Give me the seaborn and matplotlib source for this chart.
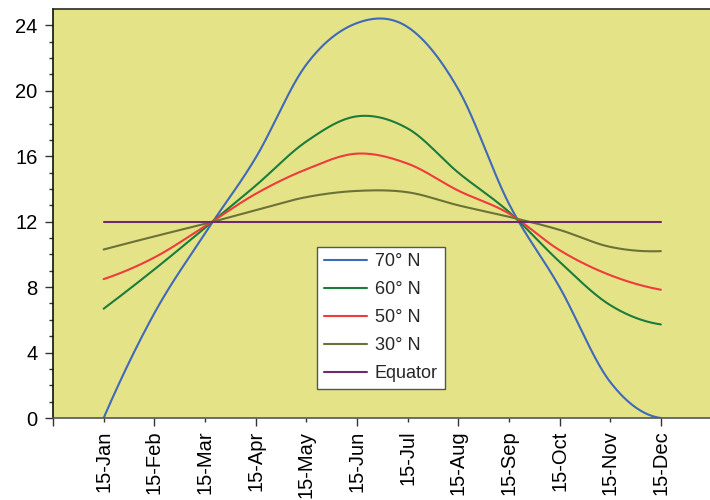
import numpy as np
import pandas as pd
import matplotlib
matplotlib.use("Agg")
import matplotlib.pyplot as plt
import seaborn as sns

# Day length (hours) on the 15th of each month
months = ["15-Jan", "15-Feb", "15-Mar", "15-Apr", "15-May", "15-Jun",
          "15-Jul", "15-Aug", "15-Sep", "15-Oct", "15-Nov", "15-Dec"]
lat70 = [0.0, 6.4, 11.28, 15.9, 21.6, 24.14, 23.9, 20.1, 13.1, 8.0, 2.2, 0.0]
lat60 = [6.68, 9.08, 11.62, 14.2, 16.9, 18.44, 17.7, 15.0, 12.6, 9.55, 6.9, 5.72]
lat50 = [8.49, 9.81, 11.72, 13.7, 15.2, 16.16, 15.55, 13.9, 12.5, 10.26, 8.73, 7.84]
lat30 = [10.3, 11.1, 11.87, 12.7, 13.5, 13.88, 13.8, 13.0, 12.3, 11.5, 10.46, 10.2]
equator = [12.0] * 12

series_names = ["70\u00b0 N", "60\u00b0 N", "50\u00b0 N", "30\u00b0 N", "Equator"]
series_vals = [lat70, lat60, lat50, lat30, equator]
colors = ["#3f69b9", "#1c7c3b", "#ef3b3b", "#6b7237", "#6d2a6f"]


def smooth(y, n=40):
    """Cubic Hermite (Catmull-Rom) smoothing through every point."""
    y = np.asarray(y, float)
    k = len(y)
    m = np.empty(k)
    m[1:-1] = (y[2:] - y[:-2]) / 2.0
    m[0] = 2 * (y[1] - y[0]) - m[1]
    m[-1] = 2 * (y[-1] - y[-2]) - m[-2]
    xs, ys = [], []
    for i in range(k - 1):
        t = np.linspace(0, 1, n, endpoint=(i == k - 2))
        h00 = 2 * t**3 - 3 * t**2 + 1
        h10 = t**3 - 2 * t**2 + t
        h01 = -2 * t**3 + 3 * t**2
        h11 = t**3 - t**2
        xs.append(i + 1 + t)
        ys.append(h00 * y[i] + h10 * m[i] + h01 * y[i + 1] + h11 * m[i + 1])
    return np.concatenate(xs), np.concatenate(ys)


frames = []
for name, vals in zip(series_names, series_vals):
    xs, ys = smooth(vals)
    frames.append(pd.DataFrame({"pos": xs, "hours": ys, "series": name}))
df = pd.concat(frames, ignore_index=True)

sns.set_style("ticks")
plt.rcParams["font.family"] = ["Liberation Sans", "DejaVu Sans"]

fig = plt.figure(figsize=(7.1, 5.0), dpi=100)
ax = fig.add_axes([53 / 710, 82 / 500, 657 / 710, 409 / 500])
ax.set_facecolor("#e5e388")

sns.lineplot(data=df, x="pos", y="hours", hue="series", hue_order=series_names,
             palette=colors, sort=False, estimator=None, linewidth=1.5, ax=ax)

ax.set_xlim(0, 12.97)
ax.set_ylim(0, 25)
ax.set_xlabel("")
ax.set_ylabel("")

# y axis: majors every 4 h, minors every hour
ax.set_yticks(np.arange(0, 25, 4))
ax.set_yticks(np.arange(0, 25, 1), minor=True)
ax.tick_params(axis="y", which="major", length=6, width=1, color="#333333",
               labelsize=14.5, pad=5, direction="out", labelcolor="black")
ax.tick_params(axis="y", which="minor", length=3, width=1, color="#333333",
               direction="out")

# x axis: a tick at every month, longer ticks on every other one
ax.set_xticks(np.arange(0, 13))
ax.set_xticklabels([""] + months, rotation=90, va="top", ha="center")
ax.tick_params(axis="x", which="major", length=3, width=1, color="#333333",
               labelsize=14.5, pad=6, direction="out", labelcolor="black")
for i, tk in enumerate(ax.xaxis.get_major_ticks()):
    if i % 2 == 0:
        tk.tick1line.set_markersize(6)

for side in ["left", "bottom", "top"]:
    ax.spines[side].set_visible(True)
    ax.spines[side].set_linewidth(1.2)
ax.spines["left"].set_color("#111111")
ax.spines["bottom"].set_color("#555555")
ax.spines["top"].set_color("#2a2a2a")
ax.spines["right"].set_visible(False)

handles, labels = ax.get_legend_handles_labels()
leg = ax.legend(handles, labels, loc="upper left", bbox_to_anchor=(0.402, 0.419),
                borderaxespad=0, fontsize=13, frameon=True, fancybox=False,
                handlelength=2.4, handletextpad=0.41, labelspacing=0.6,
                borderpad=0.38, framealpha=1)
leg.get_frame().set_edgecolor("#555555")
leg.get_frame().set_facecolor("white")
leg.get_frame().set_linewidth(1.0)
for line in leg.get_lines():
    line.set_linewidth(1.5)

fig.savefig("out.png", dpi=100)
